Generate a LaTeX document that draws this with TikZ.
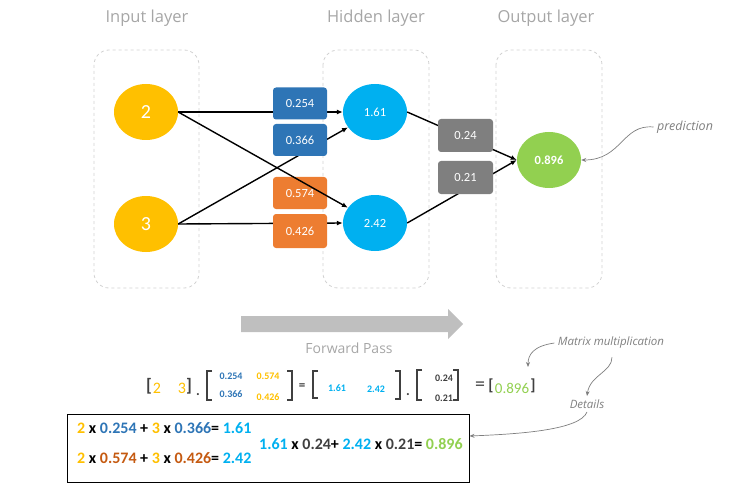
\documentclass[tikz,border=0pt]{standalone}
\usepackage{fontspec}
\setmainfont{Carlito}
\newfontfamily\hand{Open Sans}
\usetikzlibrary{arrows.meta,shapes.geometric}
\definecolor{cyel}{HTML}{FFC000}
\definecolor{cblue}{HTML}{2E75B6}
\definecolor{corange}{HTML}{ED7D31}
\definecolor{ccyan}{HTML}{00B0F0}
\definecolor{cgreen}{HTML}{92D050}
\definecolor{cgray}{HTML}{7F7F7F}
\definecolor{cbrown}{HTML}{C55A11}
\definecolor{cdark}{HTML}{404040}
\definecolor{clight}{HTML}{A6A6A6}
\definecolor{carrow}{HTML}{BFBFBF}
\tikzset{
  layerbox/.style={draw=black!18, dashed, line width=0.8pt, rounded corners=15pt},
  neuron/.style={ellipse, minimum width=64pt, minimum height=56pt, inner sep=0pt, text=white, font=\fontsize{12.5}{14}\selectfont},
  wbox/.style={rounded corners=3pt, minimum width=54pt, minimum height=32pt, inner sep=0pt, text=white, font=\fontsize{12.5}{15}\selectfont},
  conn/.style={line width=1.4pt, -{Latex[length=6pt,width=5pt]}},
  handlbl/.style={text=clight, font=\hand\fontsize{16.5}{19}\selectfont},
  note/.style={text=cgray, font=\hand\itshape\fontsize{11.5}{13}\selectfont},
  notearrow/.style={draw=cgray, line width=0.7pt, -{Stealth[length=5pt,width=4pt]}},
  ent/.style={font=\bfseries\fontsize{10}{12}\selectfont, inner sep=0pt},
  brk/.style={draw=cdark, line width=1.2pt},
  eqtxt/.style={anchor=west, inner sep=0pt, font=\bfseries\fontsize{16}{18}\selectfont},
}
\begin{document}
\begin{tikzpicture}[x=1pt,y=-1pt]
\useasboundingbox (0,0) rectangle (746,497);
% titles
\node[handlbl] (t1) at (147,18) {Input layer};
\node[handlbl] (t2) at (376,18) {Hidden layer};
\node[handlbl] (t3) at (546,18) {Output layer};
% layer boxes
\draw[layerbox] (94,50) rectangle (199,288);
\draw[layerbox] (323,50) rectangle (429,288);
\draw[layerbox] (496,50) rectangle (602,288);
% neurons
\node[neuron, fill=cyel, font=\fontsize{20}{24}\selectfont] (i1) at (146,112) {2};
\node[neuron, fill=cyel, font=\fontsize{20}{24}\selectfont] (i2) at (146,224) {3};
\node[neuron, fill=ccyan] (h1) at (375,112) {1.61};
\node[neuron, fill=ccyan] (h2) at (375,223) {2.42};
\node[neuron, fill=cgreen, font=\bfseries\fontsize{12.5}{15}\selectfont] (o) at (549,160) {0.896};
% connectors
\draw[conn] (i1.east) -- (h1.west);
\draw[conn] (i2.east) -- (h1);
\draw[conn] (i2.east) -- (h2.west);
\draw[conn] (h1.east) -- (o.west);
\draw[conn] (h2.east) -- (o.west);
% weights
\node[wbox, fill=cblue] (w1) at (300,103.5) {0.254};
\node[wbox, fill=cblue] (w2) at (300,140) {0.366};
\node[wbox, fill=corange] (w3) at (300,193) {0.574};
\node[wbox, fill=corange, minimum height=34pt] (w4) at (300,231) {0.426};
\node[wbox, fill=cgray, minimum width=55pt, minimum height=33pt] (g1) at (465.5,135.5) {0.24};
\node[wbox, fill=cgray, minimum width=55pt, minimum height=33pt] (g2) at (465.5,177.5) {0.21};
\draw[conn] (i1.east) -- (h2);
% prediction note
\node[note, font=\hand\itshape\fontsize{12.5}{14}\selectfont] (pred) at (685,127) {prediction};
\draw[notearrow] (pred.west) .. controls (622,124) and (622,160) .. (o.east);
% forward pass arrow
\fill[carrow] (241,316) -- (448,316) -- (448,309) -- (463,324) -- (448,339) -- (448,332) -- (241,332) -- cycle;
\node[handlbl, font=\hand\fontsize{14}{16}\selectfont] (fp) at (349,348) {Forward Pass};
% matrix equation
\node[text=cdark, font=\bfseries\fontsize{18}{20}\selectfont, inner sep=0pt] (lb1) at (149,386) {[};
\node[text=cyel, font=\fontsize{16}{18}\selectfont, inner sep=0pt] (x1) at (157,388) {2};
\node[text=cyel, font=\fontsize{16}{18}\selectfont, inner sep=0pt] (x2) at (182,388) {3};
\node[text=cdark, font=\bfseries\fontsize{18}{20}\selectfont, inner sep=0pt] (rb1) at (189,386) {]};
\node[text=cdark, font=\bfseries\fontsize{14}{16}\selectfont, inner sep=0pt, anchor=base] (d1) at (198,395) {.};
\draw[brk] (212,371) -- (207,371) -- (207,400) -- (212,400);
\node[ent, text=cblue] (m11) at (231,376) {0.254};
\node[ent, text=cyel] (m12) at (268,376) {0.574};
\node[ent, text=cblue] (m21) at (231,394) {0.366};
\node[ent, text=cyel] (m22) at (268,397) {0.426};
\draw[brk] (287,371) -- (292,371) -- (292,400) -- (287,400);
\node[text=cdark, font=\bfseries\fontsize{13}{15}\selectfont, inner sep=0pt] (eq1) at (302,387) {=};
\draw[brk] (318,371) -- (313,371) -- (313,398) -- (318,398);
\node[ent, text=ccyan] (hh1) at (337,388) {1.61};
\node[ent, text=ccyan] (hh2) at (376,389) {2.42};
\draw[brk] (395,371) -- (400,371) -- (400,399) -- (395,399);
\node[text=cdark, font=\bfseries\fontsize{14}{16}\selectfont, inner sep=0pt, anchor=base] (d2) at (408,395) {.};
\draw[brk] (422,370) -- (417,370) -- (417,400) -- (422,400);
\node[ent, text=cdark] (v1) at (444,378) {0.24};
\node[ent, text=cdark] (v2) at (444,398) {0.21};
\draw[brk] (453,370) -- (458,370) -- (458,400) -- (453,400);
\node[text=cdark, font=\fontsize{20}{22}\selectfont, inner sep=0pt] (eq2) at (480,386) {=};
\node[text=cdark, font=\bfseries\fontsize{16}{18}\selectfont, inner sep=0pt] (lb2) at (491,386) {[};
\node[text=cgreen, font=\fontsize{15}{18}\selectfont, inner sep=0pt] (res) at (512,388) {0.896};
\node[text=cdark, font=\bfseries\fontsize{16}{18}\selectfont, inner sep=0pt] (rb2) at (533,386) {]};
% notes
\node[note] (mm) at (611,343) {Matrix multiplication};
\node[note] (det) at (587,404) {Details};
\coordinate (mmtip) at (528,367);
\draw[notearrow] (mm.west) .. controls (533,346) and (528,355) .. (mmtip);
\draw[notearrow] ([xshift=1pt,yshift=-5pt]mm.south) .. controls (612,372) and (590,375) .. (det.north);
% details box
\node[draw=black, line width=1pt, minimum width=402pt, minimum height=68pt, inner sep=0pt] (dbox) at (268,448) {};
\draw[notearrow] (det.south) .. controls (580,430) and (520,434) .. ([yshift=12pt]dbox.east);
\node[eqtxt] (e1) at (77,428) {\textcolor{cyel}{2} x \textcolor{cblue}{0.254} + \textcolor{cyel}{3} x \textcolor{cblue}{0.366}= \textcolor{ccyan}{1.61}};
\node[eqtxt] (e2) at (77,458) {\textcolor{cyel}{2} x \textcolor{cbrown}{0.574} + \textcolor{cyel}{3} x \textcolor{cbrown}{0.426}= \textcolor{ccyan}{2.42}};
\node[eqtxt] (e3) at (259,444) {\textcolor{ccyan}{1.61} x \textcolor{cdark}{0.24}+ \textcolor{ccyan}{2.42} x \textcolor{cdark}{0.21}= \textcolor{cgreen}{0.896}};
\end{tikzpicture}
\end{document}
